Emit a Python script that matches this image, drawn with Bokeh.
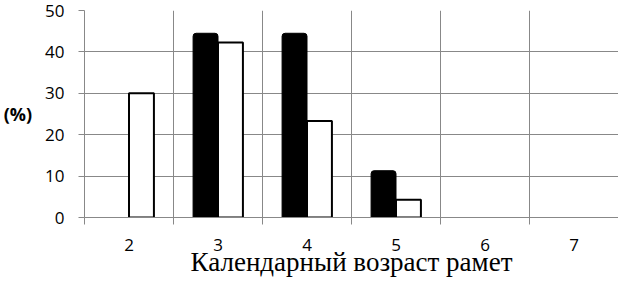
from bokeh.plotting import figure
from bokeh.models import FixedTicker, Range1d
from bokeh.embed import file_html
from bokeh.resources import INLINE

ages = [2, 3, 4, 5, 6, 7]
series_black = [0, 44.5, 44.5, 11.3, 0, 0]
series_white = [30, 42.3, 23.3, 4.3, 0, 0]
y_ticks = [0, 10, 20, 30, 40, 50]

p = figure(width=618, height=291, output_backend="svg", toolbar_location=None,
           x_range=Range1d(1.5, 7.5), y_range=Range1d(0, 50),
           min_border_left=78, min_border_right=0, min_border_top=10, min_border_bottom=74)
p.outline_line_color = None

bw = 0.28
bx = [a - bw / 2 for a, v in zip(ages, series_black) if v > 0]
bv = [v for v in series_black if v > 0]
wx = [a + bw / 2 for a, v in zip(ages, series_white) if v > 0]
wv = [v for v in series_white if v > 0]

p.vbar(x=bx, top=bv, width=bw, bottom=0, fill_color="black", line_color="black",
       line_width=1, border_radius=[3, 3, 0, 0])
p.vbar(x=wx, top=wv, width=bw, bottom=0, fill_color="white", line_color="black",
       line_width=2)

# x axis
p.xaxis.ticker = FixedTicker(ticks=ages, minor_ticks=[a - 0.5 for a in ages] + [ages[-1] + 0.5])
p.xaxis.major_tick_out = 0
p.xaxis.major_tick_in = 0
p.xaxis.minor_tick_out = 7
p.xaxis.minor_tick_in = 0
p.xaxis.minor_tick_line_color = "#888888"
p.xaxis.axis_line_color = "#888888"
p.xaxis.major_label_text_font = "Open Sans"
p.xaxis.major_label_text_font_size = "17px"
p.xaxis.major_label_text_color = "black"
p.xaxis.major_label_standoff = 14
p.xaxis.axis_label = "Календарный возраст рамет"
p.xaxis.axis_label_text_font = "Liberation Serif"
p.xaxis.axis_label_text_font_style = "normal"
p.xaxis.axis_label_text_font_size = "27px"
p.xaxis.axis_label_text_color = "black"
p.xaxis.axis_label_standoff = -7

# y axis
p.yaxis.ticker = FixedTicker(ticks=y_ticks, minor_ticks=[])
p.yaxis.major_tick_out = 6
p.yaxis.major_tick_in = 0
p.yaxis.major_tick_line_color = "#888888"
p.yaxis.axis_line_color = "#888888"
p.yaxis.major_label_text_font = "Open Sans"
p.yaxis.major_label_text_font_size = "17px"
p.yaxis.major_label_text_color = "black"
p.yaxis.major_label_standoff = 14
p.yaxis.axis_label = "(%)"
p.yaxis.axis_label_orientation = "horizontal"
p.yaxis.axis_label_text_font = "Open Sans"
p.yaxis.axis_label_text_font_style = "bold"
p.yaxis.axis_label_text_font_size = "18px"
p.yaxis.axis_label_text_color = "black"
p.yaxis.axis_label_standoff = 10

# grids
p.xgrid.ticker = FixedTicker(ticks=[a - 0.5 for a in ages] + [ages[-1] + 0.5])
p.xgrid.grid_line_color = "#888888"
p.xgrid.grid_line_width = 1
p.ygrid.ticker = FixedTicker(ticks=y_ticks)
p.ygrid.grid_line_color = "#888888"
p.ygrid.grid_line_width = 1

open("out.html", "w").write(file_html(p, INLINE))
